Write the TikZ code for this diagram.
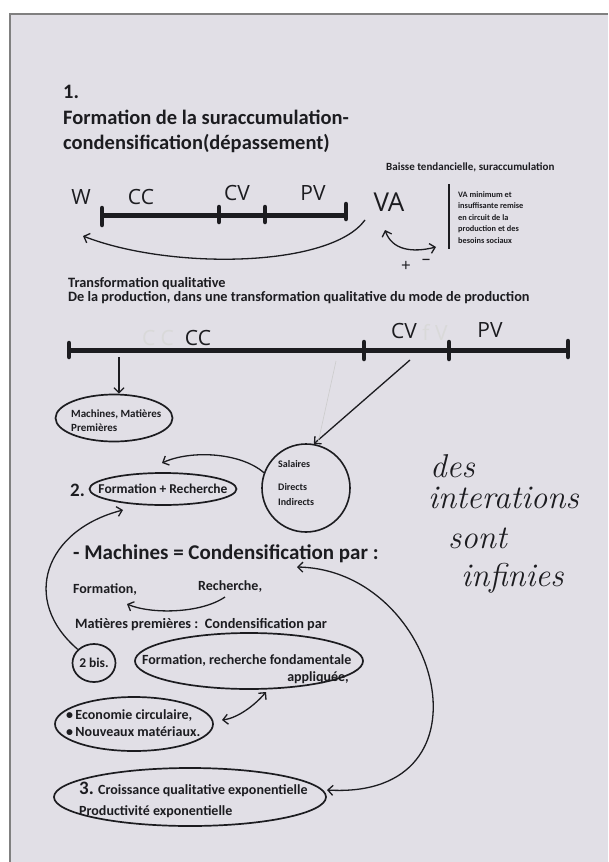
\documentclass[tikz,border=0pt]{standalone}
\usepackage{fontspec}
\newfontfamily\typed{Carlito}
\newfontfamily\hand{Open Sans}
\usetikzlibrary{shapes,arrows,arrows.meta,calc}
\definecolor{paper}{RGB}{225,223,230}
\definecolor{ink}{RGB}{28,28,32}
\tikzstyle{line} = [draw=ink, line width=1.3pt, -{Straight Barb[length=5pt,width=10pt]}]
\tikzstyle{both} = [draw=ink, line width=1.3pt, {Straight Barb[length=5pt,width=10pt]}-{Straight Barb[length=5pt,width=10pt]}]
\tikzstyle{bar} = [draw=ink, line width=5pt]
\tikzstyle{tick} = [draw=ink, line width=4.5pt, line cap=round]
\tikzstyle{blob} = [draw=ink, ellipse, line width=1.7pt, inner sep=0pt, text=ink]
\tikzstyle{ring} = [draw=ink, circle, line width=1.6pt, inner sep=0pt]
\tikzstyle{title} = [anchor=base west, inner sep=0pt, text=ink, font=\typed\bfseries\fontsize{20.5}{24}\selectfont]
\tikzstyle{body} = [anchor=base west, inner sep=0pt, text=ink, font=\typed\bfseries\fontsize{14}{16}\selectfont]
\tikzstyle{note} = [anchor=base west, inner sep=0pt, text=ink, font=\typed\bfseries\fontsize{11}{13}\selectfont]
\tikzstyle{handmark} = [inner sep=0pt, text=ink, font=\hand\fontsize{21}{21}\selectfont]
\tikzstyle{ghost} = [inner sep=0pt, text=gray!30, font=\hand\fontsize{21}{21}\selectfont]
\tikzstyle{cursive} = [anchor=base west, inner sep=0pt, text=ink, font=\itshape\fontsize{33}{35}\selectfont]

\begin{document}
\begin{tikzpicture}[x=1pt, y=-1pt]
        \useasboundingbox (0,0) rectangle (608,862);
        \fill[white] (0,0) rectangle (608,862);
        \fill[paper] (9,14) rectangle (608,862);
        \draw[gray, line width=1.5pt] (10,862) -- (10,14) -- (608,14);
        % part 1
        \node[title] (num1) at (63,98) {1.};
        \node[title] (tit1) at (63,124) {Formation de la suraccumulation-};
        \node[title] (tit2) at (63,149) {condensification(dépassement)};
        \node[note] (baisse) at (386,170) {Baisse tendancielle, suraccumulation};
        \draw[bar] (102,215) -- (346,215);
        \draw[tick] (102,208) -- (102,225);
        \foreach \x in {219,265} \draw[tick] (\x,207) -- (\x,222);
        \draw[tick] (346,204) -- (346,219);
        \node[handmark] (w) at (81,197) {W};
        \node[handmark] (cc) at (141,197) {CC};
        \node[handmark] (cv) at (237,193) {CV};
        \node[handmark] (pv) at (313,193) {PV};
        \node[handmark, font=\hand\fontsize{26}{26}\selectfont] (va) at (389,202) {VA};
        \coordinate (vaout) at (365,220);
        \coordinate (win) at (83,236);
        \coordinate (vapm) at (385,230);
        \coordinate (pmend) at (436,247);
        \path[line] (vaout) .. controls (330,268) and (170,270) .. (win);
        \path[both] (vapm) .. controls (392,250) and (412,253) .. (pmend);
        \node[handmark, font=\hand\fontsize{17}{17}\selectfont] (plus) at (406,266) {+};
        \node[handmark, font=\hand\fontsize{17}{17}\selectfont] (minus) at (426,262) {–};
        \draw[ink, line width=1.5pt] (449,184) -- (449,249);
        \node[note, anchor=north west, align=left, font=\typed\bfseries\fontsize{8.3}{11.6}\selectfont] (vamin) at (458,191)
            {VA minimum et\\insuffisante remise\\en circuit de la\\production et des\\besoins sociaux};
        % transformation
        \node[body, font=\typed\bfseries\fontsize{14.3}{16}\selectfont] (trans) at (68,287) {Transformation qualitative};
        \node[body, font=\typed\bfseries\fontsize{14.3}{16}\selectfont] (prod) at (68,301) {De la production, dans une transformation qualitative du mode de production};
        \draw[bar] (69,350) -- (568,350);
        \draw[tick] (69,343) -- (69,357);
        \foreach \x in {364,449} \draw[tick] (\x,342) -- (\x,359);
        \draw[tick] (568,341) -- (568,357);
        \node[ghost] (ccg) at (158,338) {C C};
        \node[handmark] (cc2) at (198,338) {CC};
        \node[handmark] (cv2) at (404,331) {CV};
        \node[ghost] (cvg) at (435,332) {f V};
        \node[handmark] (pv2) at (490,330) {PV};
        \coordinate (ccout) at (119,357);
        \coordinate (cvout) at (410,360);
        \node[blob, minimum width=117pt, minimum height=47pt] (mach) at (114,418) {};
        \node[body, font=\typed\bfseries\fontsize{11}{13}\selectfont] (mach1) at (71,417) {Machines, Matières};
        \node[body, font=\typed\bfseries\fontsize{11}{13}\selectfont] (mach2) at (71,431) {Premières};
        \node[ring, minimum size=88pt] (sal) at (306,488) {};
        \node[body, font=\typed\bfseries\fontsize{10}{12}\selectfont] (sal1) at (278,467) {Salaires};
        \node[body, font=\typed\bfseries\fontsize{10}{12}\selectfont] (sal2) at (278,490) {Directs};
        \node[body, font=\typed\bfseries\fontsize{10}{12}\selectfont] (sal3) at (278,505) {Indirects};
        \path[line] (ccout) -- (ccout |- mach.north);
        \path[line] (cvout) -- (sal.80);
        \draw[gray!40, line width=0.6pt] (336,361) -- (318,443);
        % part 2
        \node[title, font=\typed\bfseries\fontsize{19}{22}\selectfont] (two) at (70,496) {2.};
        \node[blob, minimum width=147pt, minimum height=32pt] (form) at (163,489) {};
        \node[body, anchor=center, font=\typed\bfseries\fontsize{13.5}{16}\selectfont] (formt) at (163,489) {Formation + Recherche};
        \coordinate (frtop) at (162,463);
        \path[line] (sal.160) .. controls (240,452) and (190,450) .. (frtop);
        \node[title, font=\typed\bfseries\fontsize{21}{24}\selectfont] (machh) at (73,559) {- Machines = Condensification par :};
        \node[body] (f1) at (73,593) {Formation,};
        \node[body] (r1) at (198,590) {Recherche,};
        \coordinate (rout) at (225,597);
        \coordinate (fin) at (127,604);
        \path[line] (rout) .. controls (200,614) and (150,614) .. (fin);
        \node[body, font=\typed\bfseries\fontsize{14.3}{16}\selectfont] (mat) at (75,628) {Matières premières :\ \ Condensification par};
        \node[blob, minimum width=43pt, minimum height=38pt, font=\typed\bfseries\fontsize{13.5}{15}\selectfont] (bis) at (94,663) {2 bis.};
        \coordinate (formin) at (123,510);
        \path[line] (bis.140) .. controls (20,600) and (45,530) .. (formin);
        \node[blob, minimum width=228pt, minimum height=56pt] (frf) at (249,661) {};
        \node[body] (frf1) at (142,664) {Formation, recherche fondamentale};
        \node[body, anchor=base east] (frf2) at (349,681) {appliquée,};
        \node[blob, minimum width=158pt, minimum height=54pt] (eco) at (134,724) {};
        \node[body] (eco1) at (66,719) {\textbullet\,Economie circulaire,};
        \node[body] (eco2) at (66,736) {\textbullet\,Nouveaux matériaux.};
        \coordinate (ecor) at (222,720);
        \coordinate (frfb) at (266,692);
        \path[both] (ecor) .. controls (238,718) and (255,705) .. (frfb);
        % part 3
        \node[blob, minimum width=272pt, minimum height=58pt] (three) at (190,797) {};
        \node[body] (three1) at (79,794) {{\fontsize{19}{19}\selectfont 3.} Croissance qualitative exponentielle};
        \node[body] (three2) at (79,815) {Productivité exponentielle};
        \coordinate (parin) at (297,567);
        \coordinate (threein) at (327,790);
        \path[both] (parin) .. controls (440,570) and (500,800) .. (threein);
        % handwriting
        \node[cursive] (des) at (430,477) {des};
        \node[cursive] (inter) at (428,508) {interations};
        \node[cursive] (sont) at (448,548) {sont};
        \node[cursive] (infin) at (461,586) {infinies};
\end{tikzpicture}
\end{document}
